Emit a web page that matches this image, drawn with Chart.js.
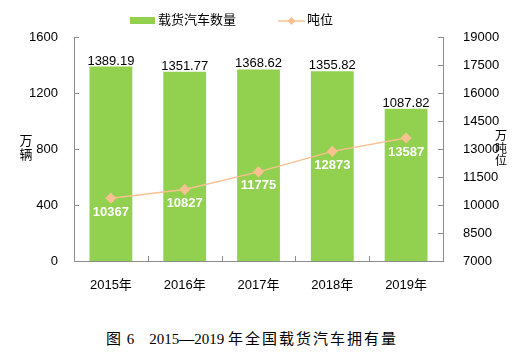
<!DOCTYPE html>
<html><head><meta charset="utf-8">
<script src="https://cdn.jsdelivr.net/npm/chart.js@4"></script>
<style>
html,body{margin:0;padding:0;background:#fff;}
#wrap{position:relative;width:528px;height:360px;overflow:hidden;}
#c{position:absolute;left:0;top:0;}
.vt{position:absolute;font:13px "Noto Sans CJK SC",sans-serif;color:#000;text-align:center;width:16px;}
#cap{position:absolute;left:106px;top:327px;white-space:pre;font-size:15px;color:#000;font-family:"Liberation Serif","Noto Sans CJK SC",serif;}
#cap .cj{font-family:"Noto Sans CJK SC",sans-serif;letter-spacing:2px;}
</style></head>
<body><div id="wrap">
<canvas id="c" width="528" height="300"></canvas>
<div class="vt" style="left:18px;top:133px;line-height:14px;">万<br>辆</div>
<div class="vt" style="left:493px;top:129px;line-height:12.5px;font-size:12px;">万<br>吨<br>位</div>
<div id="cap"><span class="cj">图</span> 6    2015<b>—</b>2019 <span class="cj">年全国载货汽车拥有量</span></div>
</div>
<script>
const categories = ["2015年","2016年","2017年","2018年","2019年"];
const vehicleCount = [1389.19, 1351.77, 1368.62, 1355.82, 1087.82];
const tonnage = [10367, 10827, 11775, 12873, 13587];
const leftTicks = [0, 400, 800, 1200, 1600];
const rightTicks = [7000, 8500, 10000, 11500, 13000, 14500, 16000, 17500, 19000];

const FONT = '"Liberation Sans", Arial, sans-serif';
const BAR = '#92D050', LINE = '#FAC090', AXIS = '#8C8C8C';

const customDraw = {
  id: 'customDraw',
  afterDatasetsDraw(chart) {
    const ctx = chart.ctx, ca = chart.chartArea;
    ctx.save();
    ctx.strokeStyle = AXIS; ctx.lineWidth = 1;
    const y = chart.scales.y, y1 = chart.scales.y1, x = chart.scales.x;
    y.ticks.forEach((t, i) => { const p = Math.round(y.getPixelForTick(i)) + 0.5; ctx.beginPath(); ctx.moveTo(ca.left, p); ctx.lineTo(ca.left + 5, p); ctx.stroke(); });
    y1.ticks.forEach((t, i) => { const p = Math.round(y1.getPixelForTick(i)) + 0.5; ctx.beginPath(); ctx.moveTo(ca.right, p); ctx.lineTo(ca.right - 5, p); ctx.stroke(); });
    for (let i = 0; i < categories.length - 1; i++) {
      const p = Math.round(x.getPixelForValue(i + 0.5)) + 0.5;
      ctx.beginPath(); ctx.moveTo(p, ca.bottom); ctx.lineTo(p, ca.bottom - 5); ctx.stroke();
    }
    ctx.font = '13px ' + FONT; ctx.fillStyle = '#000'; ctx.textAlign = 'center'; ctx.textBaseline = 'bottom';
    chart.getDatasetMeta(0).data.forEach((el, i) => { ctx.fillText(vehicleCount[i].toFixed(2), el.x, el.y + 1); });
    ctx.font = 'bold 13px ' + FONT; ctx.fillStyle = '#fff'; ctx.textBaseline = 'middle';
    chart.getDatasetMeta(1).data.forEach((el, i) => { ctx.fillText(String(tonnage[i]), el.x, el.y + 14); });
    ctx.fillStyle = BAR; ctx.fillRect(130, 17, 25, 7);
    ctx.font = '13px "Noto Sans CJK SC", sans-serif'; ctx.fillStyle = '#000'; ctx.textAlign = 'left'; ctx.textBaseline = 'middle';
    ctx.fillText(chart.data.datasets[0].label, 158, 19.5);
    ctx.strokeStyle = LINE; ctx.lineWidth = 1.5; ctx.beginPath(); ctx.moveTo(278, 21); ctx.lineTo(305, 21); ctx.stroke();
    ctx.fillStyle = LINE; ctx.beginPath(); ctx.moveTo(291.5, 17); ctx.lineTo(295.5, 21); ctx.lineTo(291.5, 25); ctx.lineTo(287.5, 21); ctx.closePath(); ctx.fill();
    ctx.fillStyle = '#000'; ctx.fillText(chart.data.datasets[1].label, 307, 19.5);
    ctx.restore();
  }
};

new Chart(document.getElementById('c'), {
  data: {
    labels: categories,
    datasets: [
      { type: 'bar', label: '载货汽车数量', data: vehicleCount, yAxisID: 'y', backgroundColor: BAR,
        barPercentage: 0.58, categoryPercentage: 1, order: 1 },
      { type: 'line', label: '吨位', data: tonnage, yAxisID: 'y1', borderColor: LINE, borderWidth: 1.5,
        pointStyle: 'rectRot', pointRadius: 4.5, pointBackgroundColor: LINE, pointBorderColor: LINE, order: 0 }
    ]
  },
  options: {
    responsive: false, animation: false, devicePixelRatio: 1,
    layout: { padding: { top: 37, left: 0, right: 0, bottom: 0 } },
    plugins: { legend: { display: false }, tooltip: { enabled: false } },
    scales: {
      x: { grid: { display: false, offset: true }, border: { color: AXIS },
        ticks: { color: '#000', font: { size: 13, family: '"Liberation Sans", "Noto Sans CJK SC", sans-serif' }, padding: 9 },
        afterFit(s) { s.height = 39; } },
      y: { position: 'left', min: 0, max: 1600, grid: { display: false }, border: { color: AXIS },
        afterBuildTicks(s) { s.ticks = leftTicks.map(v => ({ value: v })); },
        ticks: { color: '#000', font: { size: 13, family: FONT }, padding: 8, callback: v => String(v) },
        afterFit(s) { s.width = 74; } },
      y1: { position: 'right', min: 7000, max: 19000, grid: { display: false }, border: { color: AXIS },
        afterBuildTicks(s) { s.ticks = rightTicks.map(v => ({ value: v })); },
        ticks: { color: '#000', font: { size: 13, family: FONT }, padding: 12, callback: v => String(v) },
        afterFit(s) { s.width = 85; } }
    }
  },
  plugins: [customDraw]
});
</script></body></html>
